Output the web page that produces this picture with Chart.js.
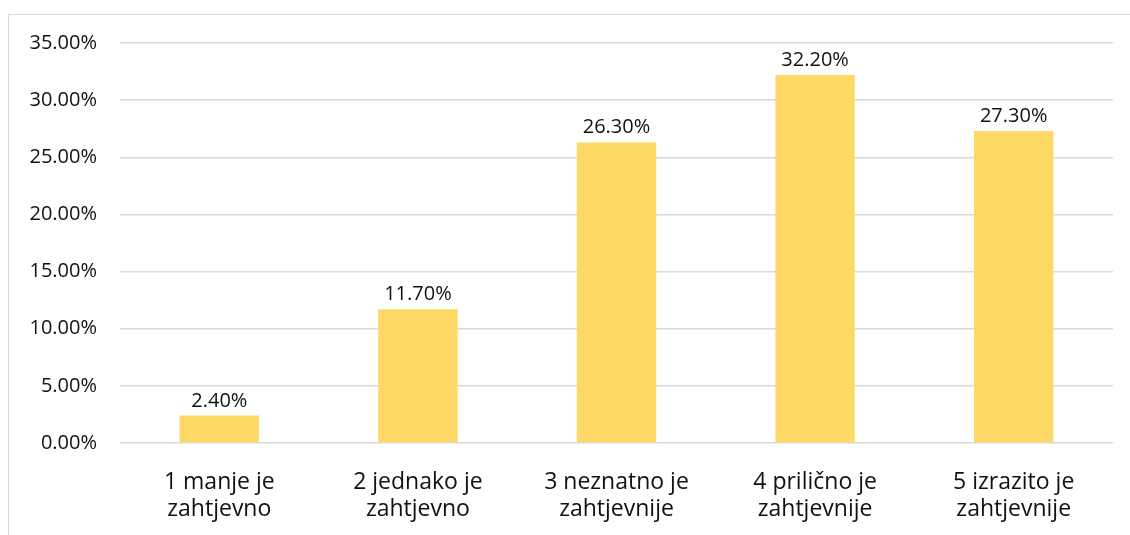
<!DOCTYPE html>
<html><head><meta charset="utf-8">
<script src="https://cdn.jsdelivr.net/npm/chart.js@4/dist/chart.umd.min.js"></script>
<style>
html,body{margin:0;padding:0;background:#fff;}
#wrap{position:absolute;left:0;top:0;width:1130px;height:535px;}
#frame{position:absolute;left:8px;top:14px;width:1130px;height:540px;border-left:1px solid #d9d9d9;border-top:1px solid #d9d9d9;}
</style></head>
<body>
<div id="frame"></div>
<div id="wrap"><canvas id="c" width="1130" height="535"></canvas></div>
<script>
const categories = [["1 manje je","zahtjevno"],["2 jednako je","zahtjevno"],["3 neznatno je","zahtjevnije"],["4 prilično je","zahtjevnije"],["5 izrazito je","zahtjevnije"]];
const values = [2.4, 11.7, 26.3, 32.2, 27.3];
const yMin = 0, yMax = 35, yStep = 5;
const FONT = "'Open Sans', 'Liberation Sans', sans-serif";

const labelPlugin = {
  id:'barLabels',
  afterDatasetsDraw(chart){
    const ctx = chart.ctx;
    const meta = chart.getDatasetMeta(0);
    ctx.save();
    ctx.font = "20px " + FONT;
    ctx.fillStyle = "#111";
    ctx.textAlign = "center";
    ctx.textBaseline = "alphabetic";
    meta.data.forEach((el,i)=>{
      ctx.fillText(values[i].toFixed(2)+"%", el.x, el.y-9);
    });
    ctx.restore();
  }
};

new Chart(document.getElementById('c'),{
  type:'bar',
  data:{labels:categories,datasets:[{data:values,backgroundColor:'#FFD966',borderWidth:0,categoryPercentage:0.8,barPercentage:0.5}]},
  options:{
    responsive:false,animation:false,
    layout:{padding:{top:43,right:17,bottom:0,left:0}},
    plugins:{legend:{display:false},tooltip:{enabled:false}},
    scales:{
      y:{min:yMin,max:yMax,
        ticks:{stepSize:yStep,padding:23,color:'#111',font:{family:FONT,size:20},callback:v=>v.toFixed(2)+'%'},
        grid:{color:'#d9d9d9',lineWidth:1.5,drawTicks:false},
        border:{display:false},
        afterFit(s){s.width=120;}
      },
      x:{
        ticks:{padding:26,color:'#111',font:{family:FONT,size:23,lineHeight:1.17},maxRotation:0,autoSkip:false},
        grid:{display:false,drawTicks:false},
        border:{display:false},
        afterFit(s){s.height=92;}
      }
    }
  },
  plugins:[labelPlugin]
});
</script>
</body></html>
